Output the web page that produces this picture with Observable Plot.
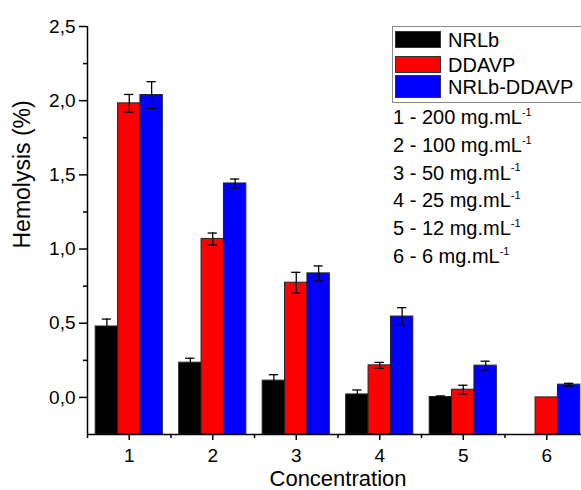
<!DOCTYPE html>
<html><head><meta charset="utf-8">
<script src="https://cdn.jsdelivr.net/npm/d3@7"></script>
<script src="https://cdn.jsdelivr.net/npm/@observablehq/plot@0.6"></script>
<style>
body{margin:0;background:#fff;font-family:"Liberation Sans",Arial,sans-serif;}
#wrap{position:relative;width:581px;height:490px;overflow:hidden;}
#wrap svg{position:absolute;left:0;top:0;}
.abs{position:absolute;white-space:nowrap;color:#000;}
.box{border:1px solid #8a8a8a;background:#fff;}
.sw{position:absolute;border:1px solid #333;box-sizing:border-box;}
sup{font-size:0.55em;vertical-align:0;position:relative;top:-0.75em;}
</style></head><body><div id="wrap"></div>
<script>
// ---- data ----
const concentrations = [1, 2, 3, 4, 5, 6];
const seriesNames = ["NRLb", "DDAVP", "NRLb-DDAVP"];
const seriesColors = ["#000000", "#ff0000", "#0000ff"];
const nrlbValues = [0.478, 0.234, 0.113, 0.020, 0.003, null];
const nrlbErrors = [0.050, 0.030, 0.040, 0.030, 0.007, null];
const ddavpValues = [1.982, 1.068, 0.773, 0.216, 0.052, 0.000];
const ddavpErrors = [0.060, 0.040, 0.070, 0.020, 0.030, 0];
const comboValues = [2.038, 1.442, 0.836, 0.545, 0.214, 0.086];
const comboErrors = [0.090, 0.030, 0.050, 0.060, 0.030, 0.009];
const yTicks = [0, 0.5, 1, 1.5, 2, 2.5];
const yMinorTicks = [0.25, 0.75, 1.25, 1.75, 2.25];
const xMinorTicks = [0.5, 1.5, 2.5, 3.5, 4.5, 5.5, 6.5];
const yDomain = [-0.25, 2.5];
const xDomain = [0.5, 6.5];
const doseLabels = ["1 - 200", "2 - 100", "3 - 50", "4 - 25", "5 - 12", "6 - 6"];
const doseUnit = "mg.mL";

const allValues = [nrlbValues, ddavpValues, comboValues];
const allErrors = [nrlbErrors, ddavpErrors, comboErrors];
const barW = 0.268, capHalf = 0.055;
const rows = [];
seriesNames.forEach((s, i) => {
  concentrations.forEach((c, j) => {
    const v = allValues[i][j];
    if (v == null) return;
    const xc = c + (i - 1) * barW;
    rows.push({series: s, conc: c, value: v, err: allErrors[i][j], xc, x1: xc - barW / 2, x2: xc + barW / 2});
  });
});
const errRows = rows.filter(d => d.err > 0);
const font = '"Liberation Sans", Arial, sans-serif';

const plot = Plot.plot({
  width: 581, height: 490,
  marginLeft: 87, marginRight: -7, marginTop: 26, marginBottom: 56,
  x: {domain: xDomain},
  y: {domain: yDomain},
  color: {domain: seriesNames, range: seriesColors},
  style: {fontFamily: font, fontSize: "19px", color: "#000", background: "transparent", overflow: "visible"},
  marks: [
    Plot.rectY(rows, {x1: "x1", x2: "x2", y1: yDomain[0], y2: "value", fill: "series", stroke: "#222", strokeWidth: 1}),
    Plot.ruleX(errRows, {x: "xc", y1: d => d.value - d.err, y2: d => d.value + d.err, stroke: "#000", strokeWidth: 1.3}),
    Plot.ruleY(errRows, {y: d => d.value + d.err, x1: d => d.xc - capHalf, x2: d => d.xc + capHalf, stroke: "#000", strokeWidth: 1.3}),
    Plot.ruleY(errRows, {y: d => d.value - d.err, x1: d => d.xc - capHalf, x2: d => d.xc + capHalf, stroke: "#000", strokeWidth: 1.3}),
    Plot.axisY({ticks: yTicks, tickSize: 8, tickPadding: 4, strokeWidth: 1.5, fontSize: 19, label: null, tickFormat: d => d.toFixed(1).replace(".", ",")}),
    Plot.axisY({ticks: yMinorTicks, tickSize: 4, strokeWidth: 1.5, label: null, tickFormat: () => ""}),
    Plot.axisX({ticks: concentrations, tickSize: 6, tickPadding: 8, strokeWidth: 1.5, fontSize: 19, label: null, tickFormat: d => String(d)}),
    Plot.axisX({ticks: xMinorTicks, tickSize: 4, strokeWidth: 1.5, label: null, tickFormat: () => ""}),
    Plot.ruleX([xDomain[0]], {y1: yDomain[0], y2: yDomain[1], stroke: "#000", strokeWidth: 1.5}),
    Plot.ruleY([yDomain[0]], {x1: xDomain[0], x2: xDomain[1], stroke: "#000", strokeWidth: 1.5}),
    Plot.text(["Concentration"], {frameAnchor: "bottom", dy: 44, lineAnchor: "middle", fontSize: 22, fill: "#000"}),
    Plot.text(["Hemolysis (%)"], {frameAnchor: "left", dx: -65, dy: 18, rotate: -90, lineAnchor: "middle", fontSize: 23, fill: "#000"})
  ]
});
const wrap = document.getElementById("wrap");
wrap.appendChild(plot);

// ---- legend overlay ----
const box = document.createElement("div");
box.className = "abs box";
Object.assign(box.style, {left: "392px", top: "26px", width: "188px", height: "75px"});
wrap.appendChild(box);
const swTops = [31, 56, 75], swH = [17, 17, 23], rowC = [40, 64.5, 87];
seriesNames.forEach((s, i) => {
  const sw = document.createElement("div");
  sw.className = "sw";
  Object.assign(sw.style, {left: "395px", top: swTops[i] + "px", width: "46px", height: swH[i] + "px", background: seriesColors[i]});
  wrap.appendChild(sw);
  const t = document.createElement("div");
  t.className = "abs";
  t.textContent = s;
  Object.assign(t.style, {left: "448px", top: (rowC[i] - 12) + "px", lineHeight: "24px", fontSize: "20px"});
  wrap.appendChild(t);
});
doseLabels.forEach((d, i) => {
  const t = document.createElement("div");
  t.className = "abs";
  t.innerHTML = d + " " + doseUnit + "<sup>-1</sup>";
  Object.assign(t.style, {left: "393px", top: (117 + i * 27.8 - 12) + "px", lineHeight: "24px", fontSize: "20px"});
  wrap.appendChild(t);
});
</script></body></html>
